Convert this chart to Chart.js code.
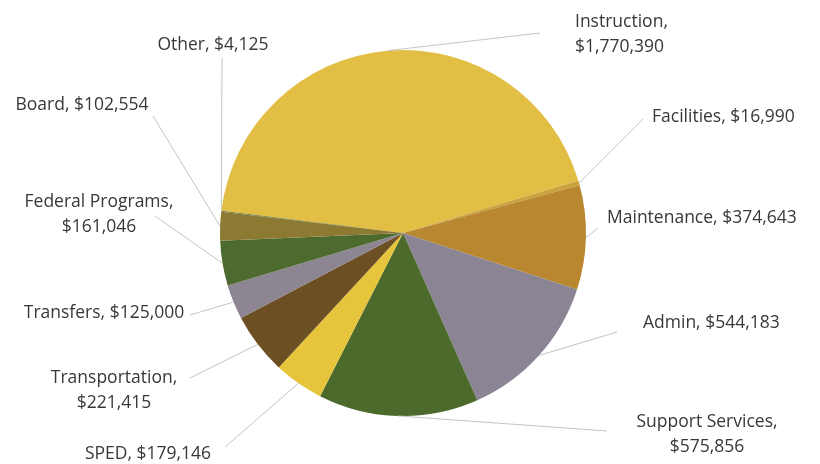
<!DOCTYPE html>
<html>
<head>
<meta charset="utf-8">
<script src="https://cdn.jsdelivr.net/npm/chart.js@4/dist/chart.umd.min.js"></script>
<style>
  html, body { margin: 0; padding: 0; background: #ffffff; }
  #wrap { width: 820px; height: 464px; position: relative; }
</style>
</head>
<body>
<div id="wrap"><canvas id="myPie"></canvas></div>
<script>
// categories and amounts (dollars)
var categories = ["Instruction", "Facilities", "Maintenance", "Admin", "Support Services", "SPED",
    "Transportation", "Transfers", "Federal Programs", "Board", "Other"];
var amounts = [1770390, 16990, 374643, 544183, 575856, 179146, 221415, 125000, 161046, 102554, 4125];
var sliceColors = ["#E2BE45", "#C9A23C", "#B8872F", "#8B8494", "#4B6A2B", "#E6C43C",
    "#6C5024", "#8D8692", "#4D6B2E", "#8C7A33", "#6E7A38"];

// where each label sits (text anchor, end of leader line)
var labelLayout = [
    { lines: 2, x: 575, y: 22, align: "left", lx: 540, ly: 33 },      // Instruction
    { lines: 1, x: 652, y: 117, align: "left", lx: 643, ly: 119 },    // Facilities
    { lines: 1, x: 607, y: 218, align: "left", lx: 598, ly: 228 },    // Maintenance
    { lines: 1, x: 643, y: 323, align: "left", lx: 617, ly: 332 },    // Admin
    { lines: 2, x: 707, y: 422, align: "center", lx: 607, ly: 431 },  // Support Services
    { lines: 1, x: 148, y: 454, align: "center", lx: 225, ly: 447 },  // SPED
    { lines: 2, x: 114, y: 378, align: "center", lx: 190, ly: 378 },  // Transportation
    { lines: 1, x: 104, y: 313, align: "center", lx: 190, ly: 315 },  // Transfers
    { lines: 2, x: 99, y: 202, align: "center", lx: 155, ly: 216 },   // Federal Programs
    { lines: 1, x: 82, y: 105, align: "center", lx: 153, ly: 116 },   // Board
    { lines: 1, x: 213, y: 45, align: "center", lx: 222, ly: 58 }     // Other
];

function money(v) {
    return "$" + v.toLocaleString("en-US");
}

var pieLabels = {
    id: "pieLabels",
    afterDraw: function (chart) {
        var ctx = chart.ctx;
        var meta = chart.getDatasetMeta(0);
        ctx.save();
        meta.data.forEach(function (arc, i) {
            var p = arc.getProps(["x", "y", "startAngle", "endAngle", "outerRadius"], true);
            var mid = (p.startAngle + p.endAngle) / 2;
            var ex = p.x + Math.cos(mid) * p.outerRadius;
            var ey = p.y + Math.sin(mid) * p.outerRadius;
            var lay = labelLayout[i];
            // leader line
            ctx.strokeStyle = "#C4C4C4";
            ctx.lineWidth = 1;
            ctx.beginPath();
            ctx.moveTo(ex, ey);
            ctx.lineTo(lay.lx, lay.ly);
            ctx.stroke();
            // text
            ctx.fillStyle = "#383838";
            ctx.font = "17.5px 'Open Sans'";
            ctx.textAlign = lay.align;
            ctx.textBaseline = "middle";
            if (lay.lines == 2) {
                ctx.fillText(categories[i] + ",", lay.x, lay.y);
                ctx.fillText(money(amounts[i]), lay.x, lay.y + 25);
            } else {
                ctx.fillText(categories[i] + ", " + money(amounts[i]), lay.x, lay.y);
            }
        });
        ctx.restore();
    }
};

new Chart(document.getElementById("myPie"), {
    type: "pie",
    data: {
        labels: categories,
        datasets: [{
            data: amounts,
            backgroundColor: sliceColors,
            borderWidth: 0
        }]
    },
    options: {
        responsive: true,
        maintainAspectRatio: false,
        animation: false,
        rotation: -83,
        layout: { padding: { top: 50, bottom: 48, left: 220, right: 234 } },
        plugins: {
            legend: { display: false },
            tooltip: { enabled: false }
        }
    },
    plugins: [pieLabels]
});
</script>
</body>
</html>
